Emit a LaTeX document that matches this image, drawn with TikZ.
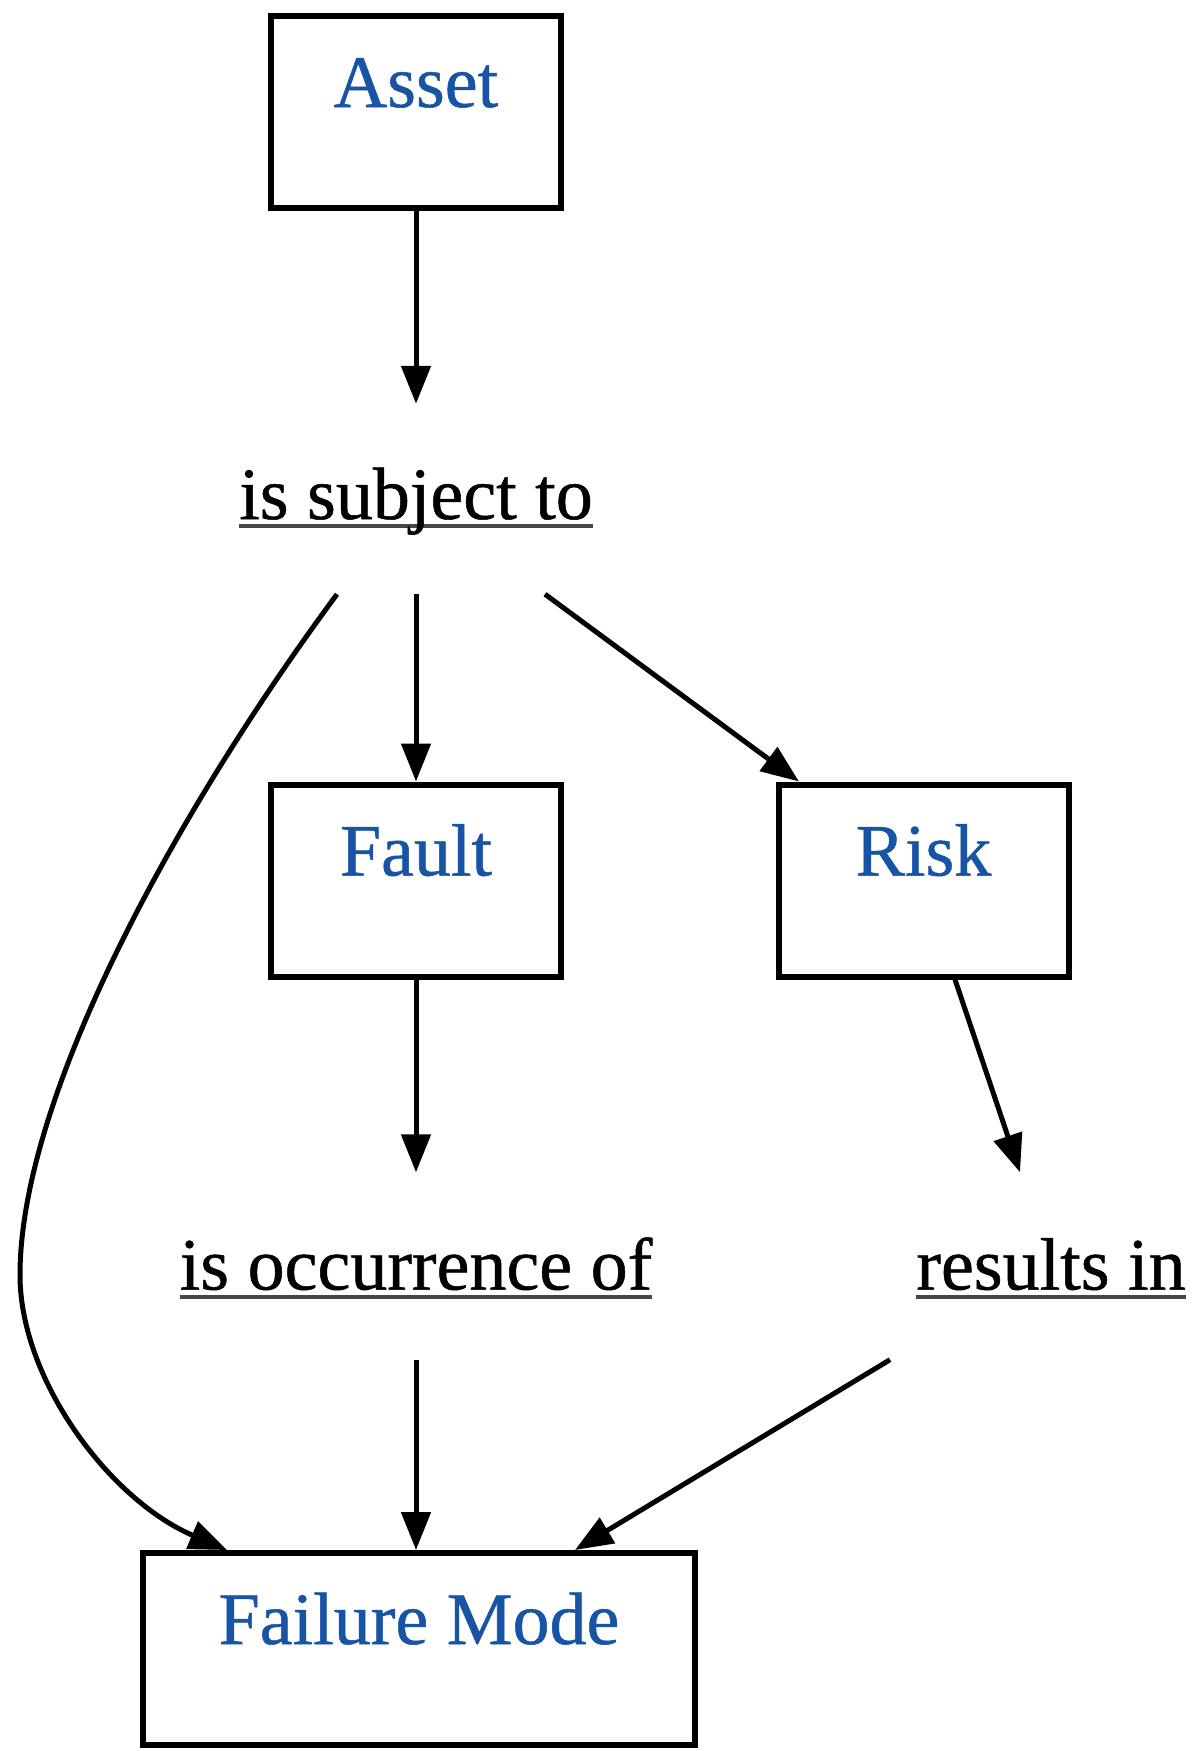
\documentclass[tikz,border=0pt]{standalone}
\usepackage{fontspec}
\setmainfont{Liberation Serif}[FakeBold=0.7]
\usetikzlibrary{arrows.meta}
\definecolor{nodeblue}{RGB}{24,84,166}
\definecolor{ulgray}{RGB}{70,70,70}
% underline that runs through descenders, like a word processor's underline
\newcommand\ulabel[1]{\setbox0\hbox{#1}\rlap{\textcolor{ulgray}{\rule[-9pt]{\wd0}{4pt}}}\box0}
\begin{document}
\begin{tikzpicture}[x=1pt,y=-1pt,
  font=\fontsize{74}{80}\selectfont,
  conceptbox/.style={draw,line width=6pt,inner sep=0pt,minimum width=290pt,
    text=nodeblue,text height=91pt,text depth=101pt},
  linkword/.style={inner sep=0pt,text=black},
  link/.style={line width=5pt,-{Triangle[length=38pt,width=29pt]}}]
\useasboundingbox (0,0) rectangle (1204,1751);
\fill[white] (0,0) rectangle (1204,1751);

% concepts
\node[conceptbox] (asset) at (416,112) {Asset};
\node[conceptbox] (fault) at (416,880.5) {Fault};
\node[conceptbox] (risk) at (923.5,880.5) {Risk};
\node[conceptbox,minimum width=552pt] (fmode) at (419,1649) {Failure Mode};

% linking phrases
\node[linkword,text height=115pt,text depth=75pt] (subj) at (416,499) {\ulabel{is subject to}};
\node[linkword,text height=117pt,text depth=70pt] (occ) at (416,1266) {\ulabel{is occurrence of}};
\node[linkword,text height=117pt,text depth=70pt] (res) at (1051,1266) {\ulabel{results in}};

% connectors
\draw[link] (asset.south) -- (subj.north);
\draw[link] (subj.south) -- (fault.north);
\draw[link] ([xshift=129pt]subj.south) -- ([xshift=-124.5pt]risk.north);
\draw[link] ([xshift=-79pt]subj.south)
  .. controls (170,820) and (20,1100) .. (20,1275)
  .. controls (20,1380) and (110,1500) .. ([xshift=-192pt]fmode.north);
\draw[link] (fault.south) -- (occ.north);
\draw[link] ([xshift=31.5pt]risk.south) -- ([xshift=-31pt]res.north);
\draw[link] (occ.south) -- ([xshift=-3pt]fmode.north);
\draw[link] ([xshift=-161pt]res.south) -- ([xshift=156pt]fmode.north);
\end{tikzpicture}
\end{document}
